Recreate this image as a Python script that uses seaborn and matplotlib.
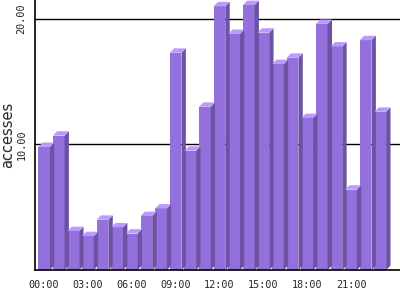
import matplotlib
matplotlib.use("Agg")
import matplotlib.pyplot as plt
import seaborn as sns
import pandas as pd
from matplotlib.patches import Polygon

hours = [f"{h:02d}:00" for h in range(24)]
accesses = [9.8, 10.7, 3.1, 2.7, 4.0, 3.4, 2.9, 4.3, 4.9, 17.3, 9.5, 13.0,
            21.0, 18.8, 21.1, 18.9, 16.4, 16.9, 12.1, 19.6, 17.8, 6.4, 18.3, 12.6]
tick_labels = ["00:00", "03:00", "06:00", "09:00", "12:00", "15:00", "18:00", "21:00"]
y_ticks = [10, 20]

front = "#9370DB"
side = "#6B52A3"
top = "#BB99FF"

df = pd.DataFrame({"hour": hours, "accesses": accesses})

sns.set_style("white")
fig = plt.figure(figsize=(4, 3), dpi=100)
ax = fig.add_axes([0.0875, 0.1, 0.9125, 0.9])

sns.barplot(data=df, x="hour", y="accesses", color=front, saturation=1,
            width=0.8, ax=ax, zorder=3, linewidth=0)

dx, dy = 0.3, 0.35
for p in ax.patches[:]:
    x0 = p.get_x()
    w = p.get_width()
    h = p.get_height()
    x1 = x0 + w
    ax.add_patch(Polygon([(x1, 0), (x1 + dx, dy), (x1 + dx, h + dy), (x1, h)],
                         closed=True, facecolor=side, edgecolor="none", zorder=3))
    ax.add_patch(Polygon([(x0, h), (x0 + dx, h + dy), (x1 + dx, h + dy), (x1, h)],
                         closed=True, facecolor=top, edgecolor="none", zorder=3))

ax.set_xlim(-0.62, 24.35)
ax.set_ylim(0, 21.5)
ax.set_xticks([hours.index(t) for t in tick_labels])
ax.set_xticklabels(tick_labels, family="DejaVu Sans Mono", fontsize=7.3)
ax.set_yticks(y_ticks)
ax.set_yticklabels([f"{v:.2f}" for v in y_ticks], family="DejaVu Sans Mono",
                   fontsize=7.3, rotation=90, va="center")
ax.tick_params(axis="x", length=0, pad=7)
ax.tick_params(axis="y", length=0, pad=6)
for yv in y_ticks:
    ax.axhline(yv, color="black", linewidth=1, zorder=1)
ax.set_xlabel("")
ax.set_ylabel("accesses", fontsize=10.5, labelpad=1)
for s in ["top", "right"]:
    ax.spines[s].set_visible(False)
ax.spines["left"].set_color("black")
ax.spines["bottom"].set_color("black")
ax.spines["left"].set_linewidth(1.2)
ax.spines["bottom"].set_linewidth(1.2)
ax.spines["bottom"].set_zorder(5)

fig.savefig("out.png", dpi=100)
